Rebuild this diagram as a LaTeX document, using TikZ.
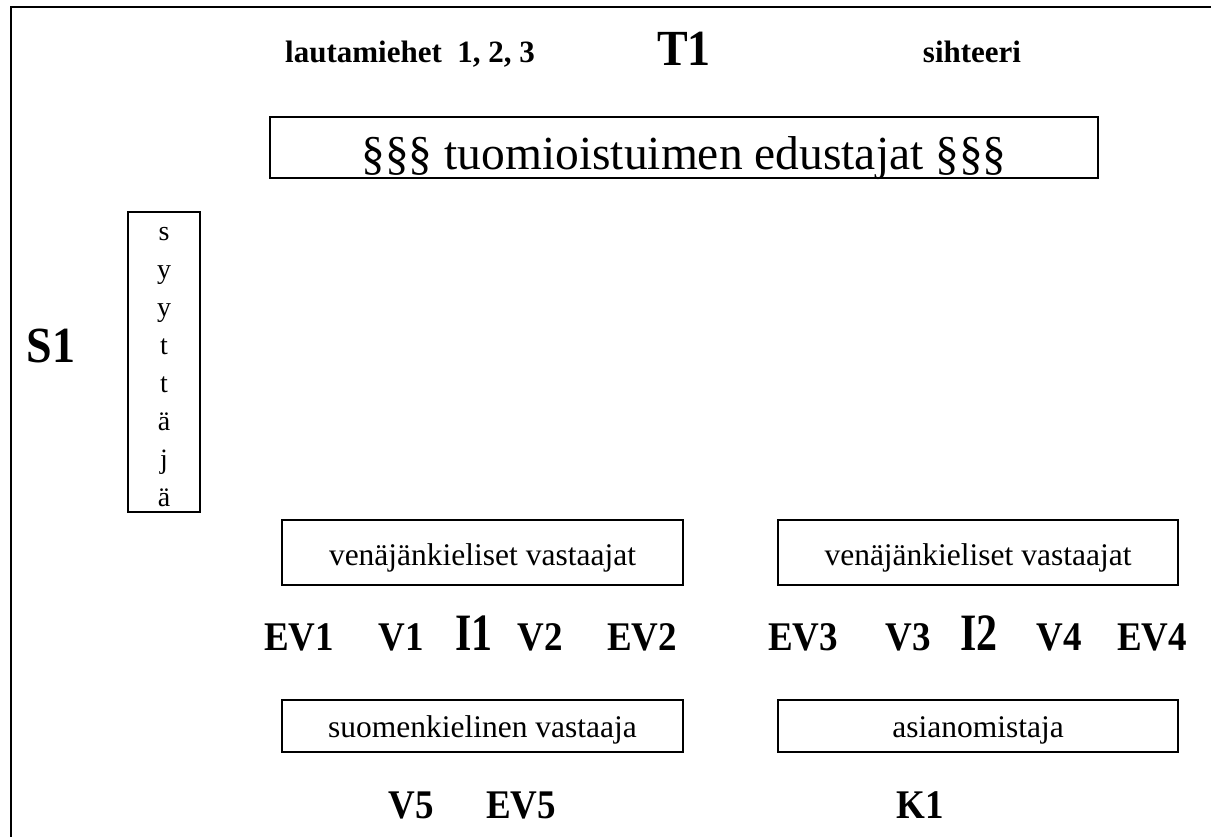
\documentclass[tikz,border=0pt]{standalone}
\usepackage{fontspec}
\setmainfont{Liberation Serif}
\newcommand{\tallr}[2][1.1]{\scalebox{1}[#1]{#2}}
\begin{document}
\begin{tikzpicture}[x=1pt,y=-1pt,
  frame/.style={line width=2pt},
  box/.style={draw, line width=1.2pt, inner sep=0pt, text depth=0pt},
  boxtxt/.style={box, font=\fontsize{31.5}{36}\selectfont},
  hdr/.style={inner sep=0pt, anchor=base, font=\fontsize{31}{36}\selectfont\bfseries},
  big/.style={inner sep=0pt, anchor=base, font=\fontsize{46}{50}\selectfont\bfseries},
  mid/.style={inner sep=0pt, anchor=base, font=\fontsize{37}{42}\selectfont\bfseries},
  tall/.style={inner sep=0pt, anchor=base, font=\fontsize{42}{52}\selectfont\bfseries}]
\useasboundingbox (0,0) rectangle (1211,837);
% outer frame (only left and top edges visible)
\draw[frame] (11,860) -- (11,7) -- (1230,7);
% header
\node[hdr] (laut) at (410,63) {lautamiehet\ \ 1, 2, 3};
\node[big] (t1) at (684,66) {\tallr{T1}};
\node[hdr] (siht) at (972,63) {sihteeri};
% court box
\node[box, minimum width=828pt, minimum height=61pt, text height=45pt,
      font=\fontsize{47.5}{52}\selectfont] (court) at (684,147.5)
      {§§§ tuomioistuimen edustajat §§§};
% prosecutor
\node[big] (s1) at (51,362) {\tallr{S1}};
\node[box, minimum width=72pt, minimum height=300pt] (syybox) at (164,362) {};
\node[inner sep=0pt, align=center, font=\fontsize{28}{38}\selectfont]
      (syy) at ([yshift=-5pt]syybox.center) {s\\y\\y\\t\\t\\ä\\j\\ä};
% defendants boxes
\node[boxtxt, minimum width=401pt, minimum height=65pt, text height=25pt]
      (ven1) at (482.5,552.5) {venäjänkieliset vastaajat};
\node[boxtxt, minimum width=400pt, minimum height=65pt, text height=25pt]
      (ven2) at (978,552.5) {venäjänkieliset vastaajat};
% row of labels
\node[mid] (ev1) at (299,650) {\tallr{EV1}};
\node[mid] (v1) at (401,650) {\tallr{V1}};
\node[tall] (i1) at (474,650) {\tallr[1.25]{I1}};
\node[mid] (v2) at (540,650) {\tallr{V2}};
\node[mid] (ev2) at (642,650) {\tallr{EV2}};
\node[mid] (ev3) at (803,650) {\tallr{EV3}};
\node[mid] (v3) at (908,650) {\tallr{V3}};
\node[tall] (i2) at (979,650) {\tallr[1.25]{I2}};
\node[mid] (v4) at (1059,650) {\tallr{V4}};
\node[mid] (ev4) at (1152,650) {\tallr{EV4}};
% lower boxes
\node[boxtxt, minimum width=401pt, minimum height=52pt, text height=22pt]
      (suomi) at (482.5,726) {suomenkielinen vastaaja};
\node[boxtxt, minimum width=400pt, minimum height=52pt, text height=22pt]
      (asian) at (978,726) {asianomistaja};
% bottom labels
\node[mid] (v5) at (411,818) {\tallr{V5}};
\node[mid] (ev5) at (521,818) {\tallr{EV5}};
\node[mid] (k1) at (920,818) {\tallr{K1}};
\end{tikzpicture}
\end{document}
